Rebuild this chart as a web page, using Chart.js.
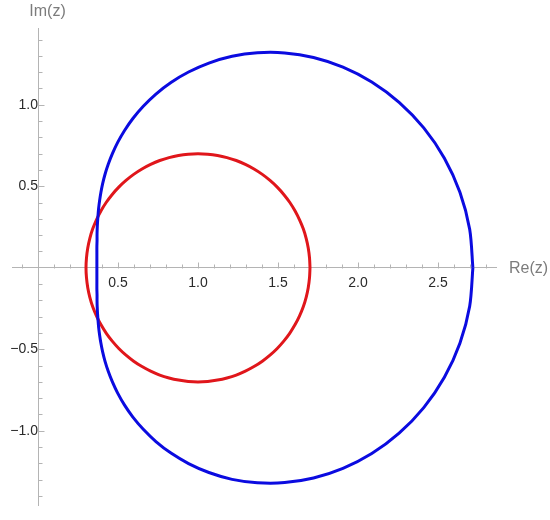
<!DOCTYPE html>
<html>
<head>
<meta charset="utf-8">
<script src="https://cdn.jsdelivr.net/npm/chart.js@4/dist/chart.umd.min.js"></script>
<style>
  html, body { margin: 0; padding: 0; background: #ffffff; }
  #c { display: block; }
</style>
</head>
<body>
<canvas id="c" width="550" height="520" style="width:550px;height:520px"></canvas>
<script>
// ---- data ----
const xAxisTitle = "Re(z)";
const yAxisTitle = "Im(z)";
const xTickLabels = [0.5, 1.0, 1.5, 2.0, 2.5];
const yTickLabels = [-1.0, -0.5, 0.5, 1.0];

// blue closed curve, points taken in order around the loop
const blueRe = [2.718, 2.698, 2.637, 2.540, 2.411, 2.257, 2.086, 1.906, 1.722, 1.542,
                1.371, 1.213, 1.068, 0.941, 0.831, 0.737, 0.658, 0.593, 0.540, 0.498,
                0.465, 0.439, 0.419, 0.404, 0.393, 0.385, 0.379, 0.375, 0.372, 0.370,
                0.369, 0.369, 0.368, 0.368, 0.368, 0.368, 0.368,
                0.368, 0.368, 0.368, 0.368, 0.369, 0.369, 0.370, 0.372, 0.375, 0.379,
                0.385, 0.393, 0.404, 0.419, 0.439, 0.465, 0.498, 0.540, 0.593, 0.658,
                0.737, 0.831, 0.941, 1.068, 1.213, 1.371, 1.542, 1.722, 1.906, 2.086,
                2.257, 2.411, 2.540, 2.637, 2.698, 2.718];
const blueIm = [0.000, 0.236, 0.463, 0.672, 0.858, 1.015, 1.140, 1.231, 1.290, 1.318,
                1.319, 1.298, 1.256, 1.201, 1.137, 1.066, 0.991, 0.916, 0.841, 0.769,
                0.700, 0.635, 0.574, 0.516, 0.462, 0.412, 0.365, 0.320, 0.279, 0.239,
                0.202, 0.166, 0.131, 0.097, 0.065, 0.032, 0.000,
                -0.032, -0.065, -0.097, -0.131, -0.166, -0.202, -0.239, -0.279, -0.320, -0.365,
                -0.412, -0.462, -0.516, -0.574, -0.635, -0.700, -0.769, -0.841, -0.916, -0.991,
                -1.066, -1.137, -1.201, -1.256, -1.298, -1.319, -1.318, -1.290, -1.231, -1.140,
                -1.015, -0.858, -0.672, -0.463, -0.236, 0.000];

// red circle, points taken in order around the loop
const redRe = [1.700, 1.697, 1.689, 1.676, 1.658, 1.634, 1.606, 1.573, 1.536, 1.495,
               1.450, 1.402, 1.350, 1.296, 1.239, 1.181, 1.122, 1.061, 1.000, 0.939,
               0.878, 0.819, 0.761, 0.704, 0.650, 0.598, 0.550, 0.505, 0.464, 0.427,
               0.394, 0.366, 0.342, 0.324, 0.311, 0.303, 0.300,
               0.303, 0.311, 0.324, 0.342, 0.366, 0.394, 0.427, 0.464, 0.505, 0.550,
               0.598, 0.650, 0.704, 0.761, 0.819, 0.878, 0.939, 1.000, 1.061, 1.122,
               1.181, 1.239, 1.296, 1.350, 1.402, 1.450, 1.495, 1.536, 1.573, 1.606,
               1.634, 1.658, 1.676, 1.689, 1.697, 1.700];
const redIm = [0.000, 0.061, 0.122, 0.181, 0.239, 0.296, 0.350, 0.402, 0.450, 0.495,
               0.536, 0.573, 0.606, 0.634, 0.658, 0.676, 0.689, 0.697, 0.700, 0.697,
               0.689, 0.676, 0.658, 0.634, 0.606, 0.573, 0.536, 0.495, 0.450, 0.402,
               0.350, 0.296, 0.239, 0.181, 0.122, 0.061, 0.000,
               -0.061, -0.122, -0.181, -0.239, -0.296, -0.350, -0.402, -0.450, -0.495, -0.536,
               -0.573, -0.606, -0.634, -0.658, -0.676, -0.689, -0.697, -0.700, -0.697, -0.689,
               -0.676, -0.658, -0.634, -0.606, -0.573, -0.536, -0.495, -0.450, -0.402, -0.350,
               -0.296, -0.239, -0.181, -0.122, -0.061, 0.000];

function pts(re, im) {
  return re.map((v, i) => ({ x: v, y: im[i] }));
}

const AXIS = '#b4b4b4';
const FONT = '"Liberation Sans", Arial, sans-serif';

function fmt(v) {
  const s = Math.abs(v).toFixed(1);
  return v < 0 ? '\u2212' + s : s;
}
function isMajor(v, list) {
  return list.some(t => Math.abs(t - v) < 1e-6);
}

const decor = {
  id: 'decor',
  beforeDatasetsDraw(chart) {
    const { ctx } = chart;
    const x = chart.scales.x, y = chart.scales.y;
    const x0 = Math.round(x.getPixelForValue(0)) + 0.5;
    const y0 = Math.round(y.getPixelForValue(0)) + 0.5;
    ctx.save();
    ctx.strokeStyle = AXIS;
    ctx.lineWidth = 1;
    x.ticks.forEach(t => {
      const k = Math.round(t.value * 10);
      if (k === 0) return;
      const len = (k % 5 === 0) ? 6 : 4;
      const px = Math.round(x.getPixelForValue(t.value)) + 0.5;
      ctx.beginPath(); ctx.moveTo(px, y0); ctx.lineTo(px, y0 - len); ctx.stroke();
    });
    y.ticks.forEach(t => {
      const k = Math.round(t.value * 10);
      if (k === 0) return;
      const len = (k % 5 === 0) ? 6 : 4;
      const py = Math.round(y.getPixelForValue(t.value)) + 0.5;
      ctx.beginPath(); ctx.moveTo(x0, py); ctx.lineTo(x0 + len, py); ctx.stroke();
    });
    ctx.fillStyle = '#7c7c7c';
    ctx.font = '16px ' + FONT;
    ctx.textAlign = 'left';
    ctx.textBaseline = 'middle';
    ctx.fillText(xAxisTitle, x.right + 13, y0);
    ctx.textAlign = 'center';
    ctx.fillText(yAxisTitle, x0 + 9, 12);
    ctx.restore();
  }
};

new Chart(document.getElementById('c'), {
  type: 'scatter',
  data: {
    datasets: [
      {
        label: 'blue',
        data: pts(blueRe, blueIm),
        showLine: true,
        borderColor: '#0b0be0',
        borderWidth: 3,
        pointRadius: 0,
        tension: 0.3,
        borderJoinStyle: 'round',
        fill: false
      },
      {
        label: 'red',
        data: pts(redRe, redIm),
        showLine: true,
        borderColor: '#e0161b',
        borderWidth: 3,
        pointRadius: 0,
        tension: 0.3,
        borderJoinStyle: 'round',
        fill: false
      }
    ]
  },
  options: {
    responsive: false,
    animation: false,
    events: [],
    layout: { padding: { left: 12, right: 54, top: 28, bottom: 10 } },
    plugins: { legend: { display: false }, tooltip: { enabled: false } },
    scales: {
      x: {
        type: 'linear',
        position: { y: 0 },
        min: -0.1625,
        max: 2.8625,
        afterFit: s => { s.height = 0; },
        grid: { drawOnChartArea: false, drawTicks: false },
        border: { display: true, color: AXIS, width: 1 },
        ticks: {
          stepSize: 0.1,
          includeBounds: false,
          autoSkip: false,
          maxRotation: 0,
          padding: 7,
          color: '#2a2a2a',
          font: { family: FONT, size: 14 },
          callback: v => isMajor(v, xTickLabels) ? fmt(v) : ''
        }
      },
      y: {
        type: 'linear',
        position: { x: 0 },
        min: -1.459,
        max: 1.471,
        afterFit: s => { s.width = 0; },
        grid: { drawOnChartArea: false, drawTicks: false },
        border: { display: true, color: AXIS, width: 1 },
        ticks: {
          stepSize: 0.1,
          includeBounds: false,
          autoSkip: false,
          padding: 6,
          color: '#2a2a2a',
          font: { family: FONT, size: 14 },
          callback: v => isMajor(v, yTickLabels) ? fmt(v) : ''
        }
      }
    }
  },
  plugins: [decor]
});
</script>
</body>
</html>
